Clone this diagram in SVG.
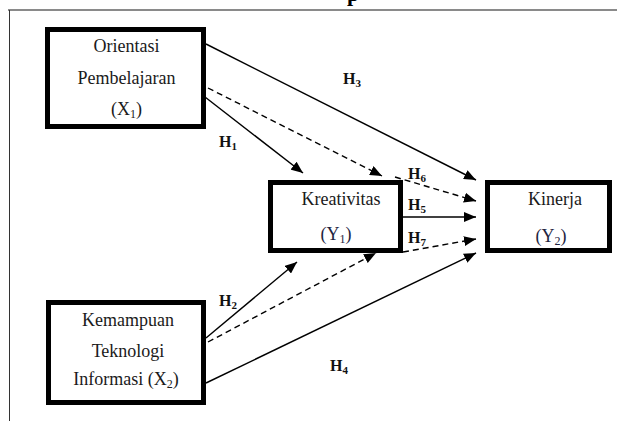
<svg xmlns="http://www.w3.org/2000/svg" width="617" height="421" viewBox="0 0 617 421">
<style>
.box{fill:#fff;stroke:#000;stroke-width:5}
.t{font-family:"Liberation Serif","Times New Roman",serif;font-size:18px;fill:#1a1a1a;text-anchor:middle}
.tb{fill:#1e2440}
.h{font-family:"Liberation Serif","Times New Roman",serif;font-size:16px;font-weight:bold;fill:#111}
.c{stroke:#000;stroke-width:1.4;fill:none;marker-end:url(#ah)}
.d{stroke-dasharray:6 4}
</style>
<defs>
<marker id="ah" markerUnits="userSpaceOnUse" markerWidth="12" markerHeight="10" viewBox="0 0 12 10" refX="12" refY="5" orient="auto">
<path d="M0,0 L12,5 L0,10 Z" fill="#000"/>
</marker>
</defs>
<rect width="617" height="421" fill="#fff"/>
<g id="frame">
<line x1="8" y1="10" x2="617" y2="10" stroke="#8a8a8a" stroke-width="2"/>
<line x1="9.5" y1="10" x2="9.5" y2="421" stroke="#333" stroke-width="1"/>
<text x="347" y="1" font-family="Liberation Serif, serif" font-size="22" font-weight="bold" fill="#000">p</text>
</g>
<g id="connectors">
<line class="c" x1="206" y1="44" x2="476" y2="180"/>
<line class="c d" x1="208" y1="88" x2="382" y2="176"/>
<line class="c d" x1="395" y1="177" x2="476" y2="201"/>
<line class="c" x1="205" y1="97" x2="303" y2="173"/>
<line class="c" x1="403" y1="217" x2="476" y2="217"/>
<line class="c d" x1="403" y1="252" x2="476" y2="239"/>
<line class="c" x1="206" y1="338" x2="297" y2="262"/>
<line class="c d" x1="208" y1="342" x2="376" y2="253"/>
<line class="c" x1="206" y1="383" x2="476" y2="253"/>
</g>
<g id="labels">
<text class="h" x="343" y="84">H<tspan font-size="11" dy="3">3</tspan></text>
<text class="h" x="219" y="147">H<tspan font-size="11" dy="3">1</tspan></text>
<text class="h" x="408" y="179">H<tspan font-size="11" dy="3">6</tspan></text>
<text class="h" x="408" y="210">H<tspan font-size="11" dy="3">5</tspan></text>
<text class="h" x="408" y="243">H<tspan font-size="11" dy="3">7</tspan></text>
<text class="h" x="219" y="306">H<tspan font-size="11" dy="3">2</tspan></text>
<text class="h" x="330" y="371">H<tspan font-size="11" dy="3">4</tspan></text>
</g>
<g id="node-x1">
<rect class="box" x="47.5" y="29.5" width="156" height="97"/>
<text class="t" x="126.5" y="52">Orientasi</text>
<text class="t" x="126.5" y="84">Pembelajaran</text>
<text class="t" x="126.5" y="115">(X<tspan font-size="12" dy="3">1</tspan><tspan dy="-3">)</tspan></text>
</g>
<g id="node-x2">
<rect class="box" x="48.5" y="302.5" width="155" height="100"/>
<text class="t" x="128" y="326">Kemampuan</text>
<text class="t" x="128" y="357">Teknologi</text>
<text class="t" x="126" y="385">Informasi (X<tspan font-size="12" dy="3">2</tspan><tspan dy="-3">)</tspan></text>
</g>
<g id="node-y1">
<rect class="box" x="270.5" y="182.5" width="130" height="68"/>
<text class="t" x="341" y="205">Kreativitas</text>
<text class="t tb" x="336" y="240">(Y<tspan font-size="12" dy="3">1</tspan><tspan dy="-3">)</tspan></text>
</g>
<g id="node-y2">
<rect class="box" x="487.5" y="182.5" width="122" height="68"/>
<text class="t" x="555" y="205">Kinerja</text>
<text class="t tb" x="551" y="242">(Y<tspan font-size="12" dy="3">2</tspan><tspan dy="-3">)</tspan></text>
</g>
</svg>
